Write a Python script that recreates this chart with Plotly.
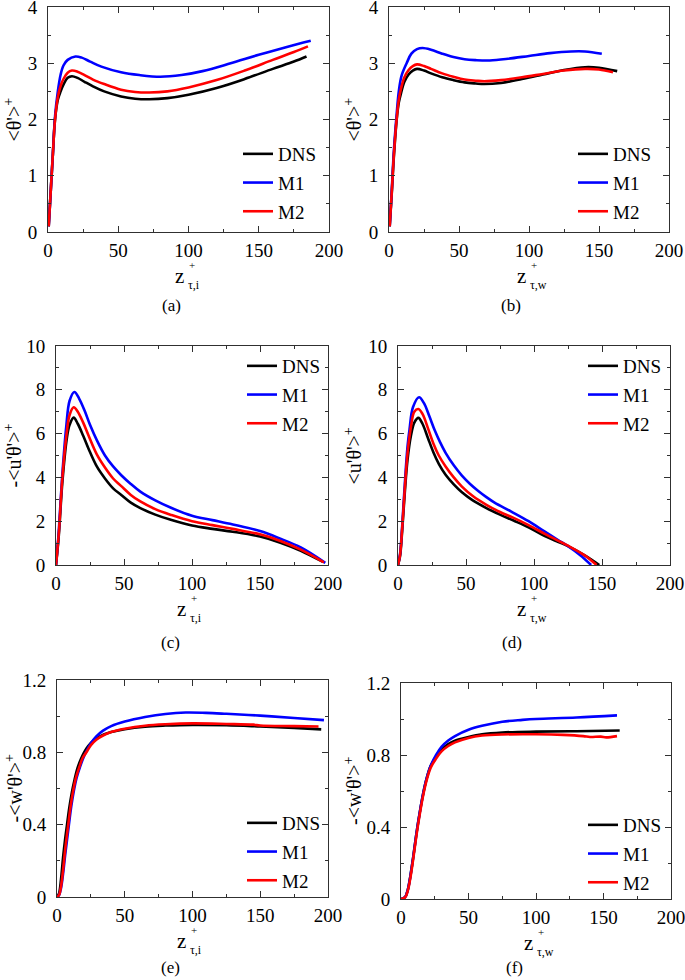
import plotly.graph_objects as go

# ---------------- data ----------------
# (a) <theta'>+ vs z+_{tau,i}
a_dns_x = [0.5, 2, 3.5, 5, 7, 9, 11, 14, 17, 21, 26, 32, 40, 52, 62, 72, 85, 100, 120, 140, 160, 175, 184]
a_dns_y = [0.1, 0.75, 1.4, 2.0, 2.35, 2.5, 2.62, 2.74, 2.77, 2.74, 2.67, 2.59, 2.5, 2.41, 2.37, 2.36, 2.38, 2.44, 2.56, 2.72, 2.9, 3.03, 3.12]
a_m1_x = [0.5, 2, 3.5, 5, 7, 9, 11, 14, 19.5, 24, 30, 38, 52, 65, 80, 95, 110, 130, 150, 170, 187]
a_m1_y = [0.1, 0.75, 1.4, 2.05, 2.5, 2.8, 2.96, 3.06, 3.12, 3.1, 3.03, 2.94, 2.84, 2.79, 2.76, 2.79, 2.86, 3.0, 3.15, 3.29, 3.4]
a_m2_x = [0.5, 2, 3.5, 5, 7, 9, 11, 14, 17, 21, 26, 32, 40, 52, 62, 72, 85, 100, 120, 140, 160, 175, 185]
a_m2_y = [0.1, 0.75, 1.4, 2.0, 2.4, 2.6, 2.72, 2.83, 2.87, 2.85, 2.79, 2.71, 2.63, 2.53, 2.49, 2.48, 2.5, 2.57, 2.7, 2.87, 3.06, 3.2, 3.3]

# (b) <theta'>+ vs z+_{tau,w}
b_dns_x = [0.5, 2, 3.5, 5.5, 7, 8.6, 11, 14, 17, 20, 25, 30, 38, 46, 54, 62, 68, 80, 95, 110, 125, 140, 150, 163]
b_dns_y = [0.1, 0.7, 1.35, 2.0, 2.3, 2.47, 2.67, 2.8, 2.87, 2.9, 2.87, 2.82, 2.75, 2.7, 2.66, 2.64, 2.63, 2.65, 2.72, 2.8, 2.88, 2.93, 2.92, 2.86]
b_m1_x = [0.5, 2, 3.5, 5.5, 7, 9, 12.6, 16, 20, 24, 30, 38, 46, 54, 62, 72, 85, 100, 115, 130, 140, 152]
b_m1_y = [0.1, 0.75, 1.45, 2.1, 2.5, 2.78, 3.0, 3.17, 3.25, 3.27, 3.24, 3.17, 3.11, 3.07, 3.055, 3.05, 3.08, 3.13, 3.18, 3.21, 3.21, 3.17]
b_m2_x = [0.5, 2, 3.5, 5.5, 7, 8.6, 11, 14, 17, 20, 25, 30, 38, 46, 54, 62, 68, 80, 95, 110, 125, 140, 150, 160]
b_m2_y = [0.1, 0.72, 1.38, 2.02, 2.35, 2.55, 2.75, 2.88, 2.95, 2.98, 2.95, 2.9, 2.82, 2.76, 2.71, 2.69, 2.68, 2.7, 2.75, 2.81, 2.87, 2.9, 2.89, 2.84]

# (c) -<u'theta'>+ vs z+_{tau,i}
c_dns_x = [0, 2, 4.7, 8, 10, 13, 16, 20, 24, 30, 36, 42, 48, 55, 62, 73, 85, 100, 115, 130, 150, 165, 180, 196]
c_dns_y = [0, 1.3, 3.8, 5.8, 6.4, 6.73, 6.45, 5.9, 5.3, 4.5, 3.95, 3.5, 3.2, 2.85, 2.6, 2.3, 2.05, 1.8, 1.65, 1.52, 1.3, 1.02, 0.65, 0.15]
c_m1_x = [0, 2, 4.5, 7.5, 10, 13.5, 17, 21, 25, 30, 36, 42, 48, 55, 62, 73, 85, 100, 115, 130, 150, 165, 180, 198]
c_m1_y = [0, 1.5, 4.0, 6.3, 7.5, 7.9, 7.6, 7.05, 6.4, 5.7, 5.0, 4.5, 4.1, 3.7, 3.35, 2.95, 2.6, 2.25, 2.05, 1.85, 1.55, 1.2, 0.8, 0.1]
c_m2_x = [0, 2, 4.7, 7.8, 10, 13, 16, 20, 24, 30, 36, 42, 48, 55, 62, 73, 85, 100, 115, 130, 150, 165, 180, 197]
c_m2_y = [0, 1.4, 4.0, 6.0, 6.85, 7.2, 7.0, 6.5, 5.9, 5.05, 4.45, 3.95, 3.6, 3.2, 2.9, 2.55, 2.28, 2.0, 1.82, 1.65, 1.4, 1.1, 0.7, 0.12]

# (d) <u'theta'>+ vs z+_{tau,w}
d_dns_x = [0, 1.5, 3, 5, 7, 9.5, 12, 15, 18, 22, 26, 30, 35, 41, 47, 55, 65, 75, 85, 96, 108, 118, 125, 137, 148]
d_dns_y = [0, 0.4, 1.5, 3.3, 4.8, 5.9, 6.5, 6.72, 6.45, 5.8, 5.15, 4.62, 4.12, 3.68, 3.32, 2.95, 2.6, 2.3, 2.03, 1.72, 1.32, 1.05, 0.86, 0.45, 0.0]
d_m1_x = [0, 1.5, 3, 5, 7, 8.5, 11, 15.5, 19, 23, 27, 31, 35, 41, 47, 53, 59, 65, 71, 83, 96, 108, 118, 125, 134, 142]
d_m1_y = [0, 0.5, 1.7, 3.7, 5.4, 6.2, 7.2, 7.66, 7.4, 6.8, 6.15, 5.6, 5.12, 4.55, 4.08, 3.7, 3.38, 3.1, 2.85, 2.45, 2.0, 1.52, 1.13, 0.86, 0.45, 0.0]
d_m2_x = [0, 1.5, 3, 5, 7, 9.5, 12, 15, 18, 22, 26, 30, 35, 41, 47, 55, 65, 75, 85, 96, 108, 118, 125, 137, 146]
d_m2_y = [0, 0.45, 1.6, 3.5, 5.1, 6.3, 7.0, 7.12, 6.9, 6.25, 5.55, 5.0, 4.5, 4.0, 3.58, 3.15, 2.75, 2.42, 2.15, 1.82, 1.42, 1.1, 0.88, 0.45, 0.0]

# (e) -<w'theta'>+ vs z+_{tau,i}
e_dns_x = [0, 1.5, 3, 4.5, 6, 7.4, 9, 11, 13, 15, 17.5, 20, 23, 27, 32, 40, 50, 65, 80, 100, 125, 150, 175, 195]
e_dns_y = [0, 0.02, 0.1, 0.22, 0.32, 0.4, 0.49, 0.58, 0.65, 0.71, 0.76, 0.8, 0.835, 0.865, 0.89, 0.912, 0.928, 0.942, 0.948, 0.952, 0.95, 0.943, 0.935, 0.927]
e_m1_x = [0, 1.5, 3, 4.5, 6, 8.8, 10.5, 12.5, 14.5, 17, 19.5, 22, 25, 29, 34, 40, 50, 65, 80, 95, 110, 125, 150, 175, 197]
e_m1_y = [0, 0.01, 0.05, 0.13, 0.23, 0.4, 0.5, 0.59, 0.66, 0.72, 0.77, 0.81, 0.85, 0.888, 0.92, 0.945, 0.97, 0.995, 1.012, 1.02, 1.018, 1.013, 1.003, 0.99, 0.978]
e_m2_x = [0, 1.5, 3, 4.5, 6, 8.3, 10, 12, 14, 16.5, 19, 21.7, 25, 29, 34, 40, 50, 65, 80, 100, 125, 145, 150, 175, 193]
e_m2_y = [0, 0.01, 0.06, 0.15, 0.26, 0.4, 0.5, 0.59, 0.66, 0.72, 0.77, 0.8, 0.84, 0.87, 0.893, 0.912, 0.93, 0.947, 0.955, 0.96, 0.957, 0.953, 0.948, 0.945, 0.943]

# (f) -<w'theta'>+ vs z+_{tau,w}
f_dns_x = [0, 3, 5, 7, 9, 11, 13, 16, 19, 22, 26, 30, 35, 40, 50, 60, 75, 100, 130, 162]
f_dns_y = [0, 0.01, 0.05, 0.13, 0.23, 0.34, 0.44, 0.57, 0.67, 0.74, 0.79, 0.83, 0.86, 0.88, 0.9, 0.915, 0.925, 0.93, 0.932, 0.936]
f_m1_x = [0, 3, 5, 7, 9, 11, 13, 16, 19, 22, 26, 30, 35, 40, 50, 60, 75, 90, 100, 130, 160]
f_m1_y = [0, 0.01, 0.05, 0.13, 0.23, 0.34, 0.44, 0.57, 0.67, 0.74, 0.8, 0.845, 0.88, 0.905, 0.94, 0.962, 0.985, 0.995, 1.0, 1.008, 1.02]
f_m2_x = [0, 3, 5, 7, 9, 11, 13, 16, 19, 22, 26, 30, 35, 40, 50, 60, 75, 100, 120, 135, 140, 148, 152, 160]
f_m2_y = [0, 0.008, 0.045, 0.12, 0.22, 0.33, 0.43, 0.56, 0.66, 0.73, 0.78, 0.82, 0.85, 0.87, 0.895, 0.908, 0.914, 0.915, 0.912, 0.905, 0.9, 0.902, 0.898, 0.905]

series_names = ["DNS", "M1", "M2"]
x_ticks = [0, 50, 100, 150, 200]

# ---------------- layout config ----------------
W, H = 685, 980
def fx(p): return p / W
def fy(p): return 1 - p / H

colors = {"DNS": "#000000", "M1": "#0000ff", "M2": "#ff0000"}
SERIF = "Liberation Serif, Times New Roman, DejaVu Serif"

panels = [
    dict(label="(a)", data={"DNS": (a_dns_x, a_dns_y), "M1": (a_m1_x, a_m1_y), "M2": (a_m2_x, a_m2_y)},
         box=(48, 329, 7, 232), yr=[0, 4], dt=1, mdt=0.5, ytitle="&lt;θ'&gt;<sup>+</sup>", sub="τ,i",
         leg=(238, 135), ytx=13, xtc=188, lab=(171, 305)),
    dict(label="(b)", data={"DNS": (b_dns_x, b_dns_y), "M1": (b_m1_x, b_m1_y), "M2": (b_m2_x, b_m2_y)},
         box=(389, 669, 7, 232), yr=[0, 4], dt=1, mdt=0.5, ytitle="&lt;θ'&gt;<sup>+</sup>", sub="τ,w",
         leg=(573, 135), ytx=353, xtc=530, lab=(511, 305)),
    dict(label="(c)", data={"DNS": (c_dns_x, c_dns_y), "M1": (c_m1_x, c_m1_y), "M2": (c_m2_x, c_m2_y)},
         box=(56, 328, 346, 565), yr=[0, 10], dt=2, mdt=1, ytitle="-&lt;u'θ'&gt;<sup>+</sup>", sub="τ,i",
         leg=(242, 347), ytx=13, xtc=190, lab=(170, 642)),
    dict(label="(d)", data={"DNS": (d_dns_x, d_dns_y), "M1": (d_m1_x, d_m1_y), "M2": (d_m2_x, d_m2_y)},
         box=(398, 670, 346, 565), yr=[0, 10], dt=2, mdt=1, ytitle="&lt;u'θ'&gt;<sup>+</sup>", sub="τ,w",
         leg=(583, 347), ytx=353, xtc=530, lab=(512, 642)),
    dict(label="(e)", data={"DNS": (e_dns_x, e_dns_y), "M1": (e_m1_x, e_m1_y), "M2": (e_m2_x, e_m2_y)},
         box=(57, 328, 680, 897), yr=[0, 1.2], dt=0.4, mdt=0.2, ytitle="-&lt;w'θ'&gt;<sup>+</sup>", sub="τ,i",
         leg=(242, 804), ytx=13, xtc=190, lab=(170, 967)),
    dict(label="(f)", data={"DNS": (f_dns_x, f_dns_y), "M1": (f_m1_x, f_m1_y), "M2": (f_m2_x, f_m2_y)},
         box=(401, 671, 683, 899), yr=[0, 1.2], dt=0.4, mdt=0.2, ytitle="-&lt;w'θ'&gt;<sup>+</sup>", sub="τ,w",
         leg=(583, 806), ytx=353, xtc=537, lab=(514, 967)),
]

fig = go.Figure()
layout = dict(
    width=W, height=H, margin=dict(l=0, r=0, t=0, b=0, autoexpand=False),
    paper_bgcolor="white", plot_bgcolor="white", showlegend=True,
    font=dict(family=SERIF, size=17, color="black"),
)
annotations = []
AXCOL = "#303030"

for i, p in enumerate(panels):
    n = i + 1
    xs = "" if n == 1 else str(n)
    legname = "legend" if n == 1 else f"legend{n}"
    for name in series_names:
        xv, yv = p["data"][name]
        fig.add_trace(go.Scatter(
            x=xv, y=yv, mode="lines", name=name,
            line=dict(color=colors[name], width=2.6, shape="spline", smoothing=1.0),
            xaxis=f"x{xs}", yaxis=f"y{xs}", legend=legname,
            legendgroup=f"{p['label']}{name}",
        ))
    x0, x1, y0, y1 = p["box"]
    common = dict(showline=True, linecolor=AXCOL, linewidth=1, mirror="ticks",
                  ticks="inside", ticklen=6, tickcolor=AXCOL, tickwidth=1,
                  showgrid=False, zeroline=False, fixedrange=True, automargin=False,
                  ticklabeloverflow="allow",
                  tickfont=dict(family=SERIF, size=19, color="black"))
    layout[f"xaxis{xs}"] = dict(common, domain=[fx(x0), fx(x1)], range=[0, 200], anchor=f"y{xs}",
                                tickmode="array", tickvals=x_ticks, ticklabelstandoff=1,
                                minor=dict(ticks="inside", ticklen=3, dtick=25, tickcolor=AXCOL, showgrid=False))
    layout[f"yaxis{xs}"] = dict(common, domain=[fy(y1), fy(y0)], range=p["yr"], anchor=f"x{xs}",
                                dtick=p["dt"], tick0=0, ticklabelstandoff=6,
                                minor=dict(ticks="inside", ticklen=3, dtick=p["mdt"], tickcolor=AXCOL, showgrid=False))
    lx, ly = p["leg"]
    layout[legname] = dict(x=fx(lx), y=fy(ly), xanchor="left", yanchor="top",
                           bgcolor="rgba(0,0,0,0)", borderwidth=0,
                           font=dict(family=SERIF, size=19, color="black"),
                           traceorder="grouped", tracegroupgap=1, itemwidth=30)
    # y title
    annotations.append(dict(xref="paper", yref="paper", x=fx(p["ytx"]), y=fy((y0 + y1) / 2),
                            text=p["ytitle"], textangle=-90, showarrow=False,
                            xanchor="center", yanchor="middle",
                            font=dict(family=SERIF, size=20, color="black")))
    # x title: z with stacked super/subscript
    xb = y1
    annotations.append(dict(xref="paper", yref="paper", x=fx(p["xtc"] - 2), y=fy(xb + 44),
                            text="z", showarrow=False, xanchor="right", yanchor="middle",
                            font=dict(family=SERIF, size=21, color="black")))
    annotations.append(dict(xref="paper", yref="paper", x=fx(p["xtc"] - 1), y=fy(xb + 33),
                            text="+", showarrow=False, xanchor="left", yanchor="middle",
                            font=dict(family=SERIF, size=11, color="black")))
    annotations.append(dict(xref="paper", yref="paper", x=fx(p["xtc"] - 2), y=fy(xb + 53),
                            text=p["sub"], showarrow=False, xanchor="left", yanchor="middle",
                            font=dict(family=SERIF, size=12, color="black")))
    # panel label
    lx2, ly2 = p["lab"]
    annotations.append(dict(xref="paper", yref="paper", x=fx(lx2), y=fy(ly2),
                            text=p["label"], showarrow=False, xanchor="center", yanchor="middle",
                            font=dict(family=SERIF, size=17, color="black")))

layout["annotations"] = annotations
fig.update_layout(**layout)
fig.write_html("out.html", config={"displayModeBar": False},
               post_script="document.body.style.margin='0px';")
